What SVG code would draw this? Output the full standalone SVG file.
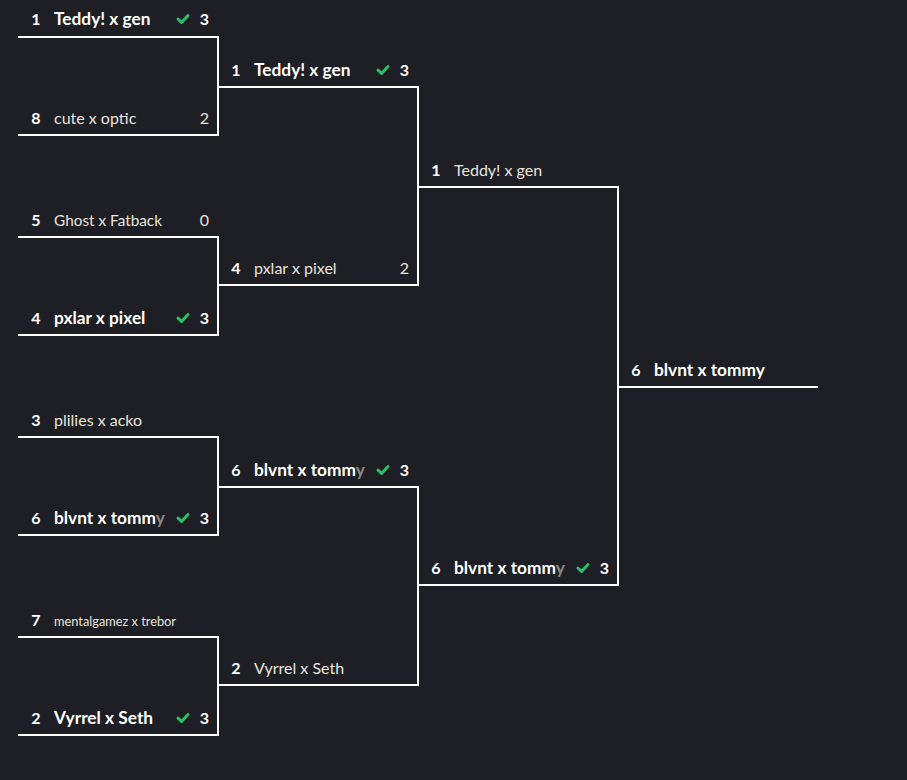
<svg xmlns="http://www.w3.org/2000/svg" width="907" height="780" viewBox="0 0 907 780">
<defs>
<style>
text{font-family:"Lato","Liberation Sans",sans-serif;font-size:16px}
.seed{font-weight:700;fill:#fff;text-anchor:middle}
.w{font-weight:700;fill:#fff;font-size:17.3px}
.l{font-weight:400;fill:#e6e4df}
.sw{font-weight:700;fill:#fff;text-anchor:end}
.sl{font-weight:400;fill:#e6e4df;text-anchor:end}
.fade{fill:#8a8a8a}
.c{fill:none;stroke:#fff;stroke-width:2}
.chk{fill:none;stroke:#2fbf6a;stroke-width:3;stroke-linecap:round;stroke-linejoin:round}
</style>
<path id="ck" d="M0 0 l3.5 3.5 l6.5 -7" class="chk"/>
</defs>
<rect width="907" height="780" fill="#1e1f24"/>
<g id="connectors">
<path class="c" d="M18 37H218V135H18"/>
<path class="c" d="M18 237H218V335H18"/>
<path class="c" d="M18 437H218V535H18"/>
<path class="c" d="M18 637H218V735H18"/>
<path class="c" d="M218 87H418V285H218"/>
<path class="c" d="M218 487H418V685H218"/>
<path class="c" d="M418 187H618V585H418"/>
<path class="c" d="M618 387H818"/>
</g>
<g id="r1m1a"><text class="seed" x="36" y="25">1</text><text class="w" x="54" y="25">Teddy! x gen</text><use href="#ck" x="178" y="19"/><text class="sw" x="209" y="25">3</text></g>
<g id="r1m1b"><text class="seed" x="36" y="124">8</text><text class="l" x="54" y="124">cute x optic</text><text class="sl" x="209" y="124">2</text></g>
<g id="r1m2a"><text class="seed" x="36" y="226">5</text><text class="l" x="54" y="226" textLength="108" lengthAdjust="spacingAndGlyphs">Ghost x Fatback</text><text class="sl" x="209" y="226">0</text></g>
<g id="r1m2b"><text class="seed" x="36" y="324">4</text><text class="w" x="54" y="324">pxlar x pixel</text><use href="#ck" x="178" y="318"/><text class="sw" x="209" y="324">3</text></g>
<g id="r1m3a"><text class="seed" x="36" y="426">3</text><text class="l" x="54" y="426">plilies x acko</text></g>
<g id="r1m3b"><text class="seed" x="36" y="524">6</text><text class="w" x="54" y="524">blvnt x tomm<tspan class="fade">y</tspan></text><use href="#ck" x="178" y="518"/><text class="sw" x="209" y="524">3</text></g>
<g id="r1m4a"><text class="seed" x="36" y="626">7</text><text class="l" x="54" y="626" style="font-size:14px" textLength="122" lengthAdjust="spacingAndGlyphs">mentalgamez x trebor</text></g>
<g id="r1m4b"><text class="seed" x="36" y="724">2</text><text class="w" x="54" y="724">Vyrrel x Seth</text><use href="#ck" x="178" y="718"/><text class="sw" x="209" y="724">3</text></g>
<g id="r2m1a"><text class="seed" x="236" y="76">1</text><text class="w" x="254" y="76">Teddy! x gen</text><use href="#ck" x="378" y="70"/><text class="sw" x="409" y="76">3</text></g>
<g id="r2m1b"><text class="seed" x="236" y="274">4</text><text class="l" x="254" y="274">pxlar x pixel</text><text class="sl" x="409" y="274">2</text></g>
<g id="r2m2a"><text class="seed" x="236" y="476">6</text><text class="w" x="254" y="476">blvnt x tomm<tspan class="fade">y</tspan></text><use href="#ck" x="378" y="470"/><text class="sw" x="409" y="476">3</text></g>
<g id="r2m2b"><text class="seed" x="236" y="674">2</text><text class="l" x="254" y="674">Vyrrel x Seth</text></g>
<g id="r3m1a"><text class="seed" x="436" y="176">1</text><text class="l" x="454" y="176">Teddy! x gen</text></g>
<g id="r3m1b"><text class="seed" x="436" y="574">6</text><text class="w" x="454" y="574">blvnt x tomm<tspan class="fade">y</tspan></text><use href="#ck" x="578" y="568"/><text class="sw" x="609" y="574">3</text></g>
<g id="final"><text class="seed" x="636" y="376">6</text><text class="w" x="654" y="376">blvnt x tommy</text></g>
</svg>
